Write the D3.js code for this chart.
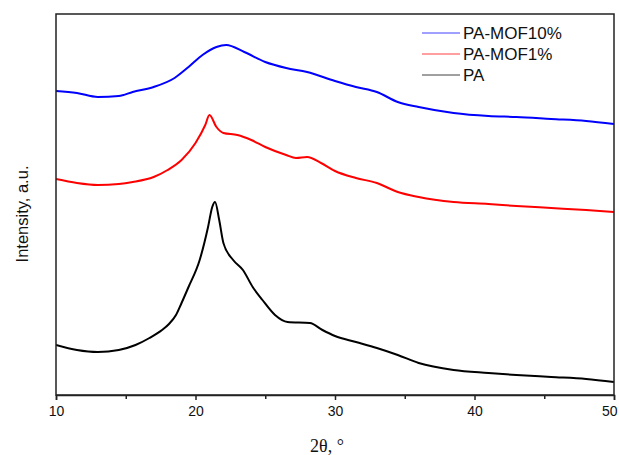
<!DOCTYPE html>
<html>
<head>
<meta charset="utf-8">
<script src="https://cdn.jsdelivr.net/npm/d3@7"></script>
<style>
  html, body { margin: 0; padding: 0; background: #fff; }
  svg { display: block; }
</style>
</head>
<body>
<svg id="chart" width="619" height="455"></svg>
<script>
// ---- data ----
const xTicks = [10, 20, 30, 40, 50];
const xMinorTicks = [15, 25, 35, 45];
const seriesNames = ["PA-MOF10%", "PA-MOF1%", "PA"];

const thetaMOF10 = [10, 11.5, 13, 14.5, 15.5, 17, 18.5, 19.5, 20.5, 21.5, 22.2, 23.5, 25, 26.5, 28, 30, 31.5, 33, 34.5, 36, 38.5, 41, 43, 45.5, 48, 50];
const intMOF10   = [304, 302, 298, 299, 303, 308, 317, 328, 340, 348, 350, 343, 333, 327, 323, 314, 308, 303, 293, 288, 282, 279, 278, 276, 274, 271];

const thetaMOF1 = [10, 11.5, 13, 14.5, 15.5, 17, 18, 19, 20, 20.7, 21, 21.5, 22, 23, 24, 25, 26.5, 27.2, 28, 29, 30, 31.5, 33, 34.5, 36, 38.5, 41, 43, 45.5, 48, 50];
const intMOF1   = [216, 212, 210, 211, 213, 218, 225, 235, 252, 270, 280, 268, 262, 260, 255, 248, 240, 237, 238, 232, 224, 217, 212, 203, 198, 193, 191, 189, 187, 185, 183];

const thetaPA = [10, 11.5, 13, 14.5, 15.7, 16.7, 17.6, 18.1, 18.6, 19, 19.5, 20.3, 20.9, 21.2, 21.4, 21.7, 22, 22.7, 23.4, 24.1, 24.8, 25.7, 26.6, 28.2, 29.1, 30, 31.5, 33, 34.5, 36, 38.5, 41, 43, 45.5, 48, 50];
const intPA   = [50, 45, 43, 45, 50, 57, 65, 71, 80, 92, 108, 135, 168, 188, 193, 175, 152, 135, 125, 108, 95, 80, 73, 72, 65, 59, 53, 47, 40, 32, 25, 22, 20, 18, 16, 13];

const seriesColors = ["#0000ff", "#ff0000", "#000000"];

// ---- layout ----
const svg = d3.select("#chart");
const plotLeft = 56, plotRight = 614, plotTop = 14, plotBottom = 395;

const x = d3.scaleLinear().domain([10, 50]).range([plotLeft, plotRight]);
const y = d3.scaleLinear().domain([0, 381]).range([plotBottom, plotTop]);

const series = [
  { name: seriesNames[0], color: seriesColors[0], pts: thetaMOF10.map((t, i) => [t, intMOF10[i]]) },
  { name: seriesNames[1], color: seriesColors[1], pts: thetaMOF1.map((t, i) => [t, intMOF1[i]]) },
  { name: seriesNames[2], color: seriesColors[2], pts: thetaPA.map((t, i) => [t, intPA[i]]) }
];

svg.append("clipPath").attr("id", "clip")
  .append("rect").attr("x", plotLeft).attr("y", plotTop)
  .attr("width", plotRight - plotLeft).attr("height", plotBottom - plotTop);

const line = d3.line()
  .x(d => x(d[0]))
  .y(d => y(d[1]))
  .curve(d3.curveMonotoneX);

const g = svg.append("g").attr("clip-path", "url(#clip)");
series.forEach(s => {
  g.append("path")
    .datum(s.pts)
    .attr("fill", "none")
    .attr("stroke", s.color)
    .attr("stroke-width", 2)
    .attr("stroke-linejoin", "round")
    .attr("d", line);
});

// frame
svg.append("rect")
  .attr("x", plotLeft).attr("y", plotTop)
  .attr("width", plotRight - plotLeft).attr("height", plotBottom - plotTop)
  .attr("fill", "none").attr("stroke", "#222").attr("stroke-width", 1.5);

// bottom axis
const xAxis = svg.append("g")
  .attr("transform", `translate(0,${plotBottom})`)
  .call(d3.axisBottom(x).tickValues(xTicks).tickSize(5).tickPadding(6).tickFormat(d3.format("d")));
xAxis.select(".domain").attr("stroke", "#222").attr("stroke-width", 1.5);
xAxis.selectAll(".tick line").attr("stroke", "#222").attr("stroke-width", 1.5);
xAxis.selectAll(".tick text")
  .attr("font-family", "'Liberation Sans', Arial, sans-serif")
  .attr("font-size", 14).attr("fill", "#111");
// keep the last label inside the window
xAxis.selectAll(".tick text").filter(d => d === 50)
  .attr("text-anchor", "end").attr("dx", "3");

const xMinor = svg.append("g")
  .attr("transform", `translate(0,${plotBottom})`)
  .call(d3.axisBottom(x).tickValues(xMinorTicks).tickSize(4).tickFormat(""));
xMinor.select(".domain").remove();
xMinor.selectAll(".tick line").attr("stroke", "#222").attr("stroke-width", 1.5);

// axis titles
svg.append("text")
  .attr("x", 327).attr("y", 452)
  .attr("text-anchor", "middle")
  .attr("font-family", "'Liberation Serif', 'Times New Roman', serif")
  .attr("font-size", 18).attr("fill", "#111")
  .text("2θ, °");

svg.append("text")
  .attr("transform", "translate(28,214) rotate(-90)")
  .attr("text-anchor", "middle")
  .attr("font-family", "'Liberation Sans', Arial, sans-serif")
  .attr("font-size", 16.5).attr("fill", "#111")
  .text("Intensity, a.u.");

// legend
const legend = svg.append("g");
series.forEach((s, i) => {
  const ly = 33 + i * 21;
  legend.append("line")
    .attr("x1", 422).attr("x2", 460).attr("y1", ly).attr("y2", ly)
    .attr("stroke", s.color).attr("stroke-width", 1).attr("stroke-opacity", 0.75);
  legend.append("text")
    .attr("x", 463).attr("y", ly + 6)
    .attr("font-family", "'Liberation Sans', Arial, sans-serif")
    .attr("font-size", 17).attr("fill", "#111")
    .text(s.name);
});
</script>
</body>
</html>
